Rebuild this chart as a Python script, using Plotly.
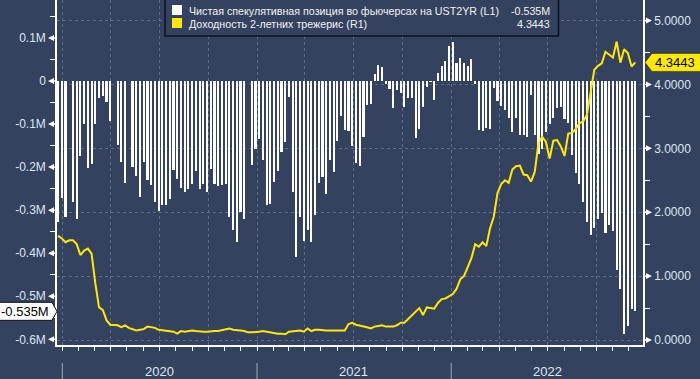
import pandas as pd
import plotly.graph_objects as go

# ---------------- data ----------------
dates = pd.date_range('2019-12-24', periods=156, freq='7D')

positions = [  # net speculative position, millions of contracts
    -0.327, -0.271, -0.317, None, -0.280, -0.320, -0.174, -0.100, -0.201, -0.193,
    -0.100, -0.039, -0.034, -0.048, -0.094, None, -0.149, -0.187, -0.238, None,
    -0.200, -0.220, -0.269, -0.187, -0.229, -0.241, -0.281, -0.303, -0.287, -0.287,
    -0.273, -0.207, -0.227, -0.248, -0.257, -0.250, -0.239, -0.208, -0.250, -0.239,
    -0.257, -0.204, -0.239, -0.243, -0.241, -0.239, -0.315, -0.346, -0.374, -0.304,
    -0.320, None, -0.195, -0.158, -0.135, -0.183, -0.289, -0.286, -0.235, -0.209,
    -0.166, -0.141, -0.036, -0.258, -0.408, -0.315, -0.371, -0.346, -0.375, -0.311,
    -0.237, -0.223, -0.262, -0.183, -0.211, -0.139, -0.081, -0.114, -0.116, -0.150,
    -0.190, -0.197, -0.129, -0.055, -0.053, 0.016, 0.037, 0.032, -0.006, -0.018,
    -0.062, -0.022, -0.027, -0.060, -0.039, -0.039, -0.132, -0.111, -0.060, -0.013,
    -0.002, -0.044, 0.018, 0.035, 0.047, 0.082, 0.091, 0.043, 0.053, 0.042,
    0.035, 0.051, -0.008, -0.113, -0.117, -0.108, -0.111, -0.017, -0.046, -0.058,
    -0.068, -0.087, -0.119, -0.087, -0.126, -0.126, -0.131, -0.032, -0.126, -0.169,
    -0.158, -0.118, -0.100, -0.085, -0.062, -0.060, -0.088, -0.097, -0.171, -0.213,
    -0.239, -0.281, -0.327, -0.357, -0.341, -0.320, -0.306, -0.352, -0.334, -0.349,
    -0.439, -0.482, -0.587, -0.568, -0.529, -0.535,
]

yields = [  # 2-year Treasury yield, %
    1.63, 1.59, 1.53, 1.56, 1.56, 1.50, 1.33, 1.40, 1.43, 1.35,
    0.89, 0.51, 0.47, 0.31, 0.24, 0.23, 0.23, 0.20, 0.23, 0.19,
    0.17, 0.15, 0.16, 0.17, 0.21, 0.20, 0.19, 0.16, 0.15, 0.14,
    0.14, 0.13, 0.10, 0.14, 0.13, 0.14, 0.15, 0.14, 0.13, 0.13,
    0.13, 0.14, 0.14, 0.14, 0.15, 0.16, 0.18, 0.16, 0.16, 0.15,
    0.14, 0.12, 0.12, 0.12, 0.13, 0.14, 0.13, 0.12, 0.10, 0.10,
    0.10, 0.09, 0.13, 0.14, 0.14, 0.15, 0.13, 0.18, 0.14, 0.16,
    0.16, 0.15, 0.15, 0.15, 0.15, 0.15, 0.15, 0.15, 0.25, 0.27,
    0.24, 0.23, 0.22, 0.20, 0.18, 0.21, 0.22, 0.23, 0.21, 0.21,
    0.21, 0.23, 0.27, 0.27, 0.33, 0.38, 0.44, 0.50, 0.39, 0.51,
    0.50, 0.49, 0.58, 0.64, 0.65, 0.68, 0.72, 0.80, 0.95, 1.00,
    1.15, 1.28, 1.50, 1.46, 1.53, 1.47, 1.75, 1.93, 2.30, 2.44,
    2.50, 2.46, 2.67, 2.72, 2.73, 2.59, 2.58, 2.48, 2.63, 3.08,
    3.18, 3.10, 2.84, 3.12, 3.13, 3.03, 2.88, 3.23, 3.24, 3.30,
    3.39, 3.42, 3.52, 3.91, 4.23, 4.29, 4.33, 4.51, 4.46, 4.42,
    4.67, 4.34, 4.55, 4.49, 4.28, 4.3443,
]

left_ticks = [-0.6, -0.5, -0.4, -0.3, -0.2, -0.1, 0.0, 0.1]
left_labels = ['-0.6M', '-0.5M', '-0.4M', '-0.3M', '-0.2M', '-0.1M', '0', '0.1M']
left_minor = [-0.55, -0.45, -0.35, -0.25, -0.15, -0.05, 0.05, 0.15]
right_ticks = [0, 1, 2, 3, 4, 5]
right_labels = ['0.0000', '1.0000', '2.0000', '3.0000', '4.0000', '5.0000']
right_minor = [0.5, 1.5, 2.5, 3.5, 4.5]
years = ['2020', '2021', '2022']
year_mid = ['2020-07-01', '2021-07-01', '2022-07-01']
year_start = ['2020-01-01', '2021-01-01', '2022-01-01']
quarters = [f'{y}-{m:02d}-01' for y in (2020, 2021, 2022) for m in (1, 4, 7, 10)]

name_pos = 'Чистая спекулятивная позиция во фьючерсах на UST2YR (L1)'
name_yld = 'Доходность 2-летних трежерис (R1)'

# ---------------- style ----------------
BG = '#34425F'
GRID = '#5A6D8F'
TXT = '#DCE6F2'
YEL = '#FFE900'
FONT = 'Liberation Sans, Arial, sans-serif'

L, R, T, B = 57, 57, 0, 34
FW, FH = 700, 379
W = FW - L - R
H = FH - T - B


def px(x):
    return (x - L) / W


def py(y):
    return (FH - B - y) / H


fig = go.Figure()
fig.add_trace(go.Bar(
    x=dates, y=positions, yaxis='y',
    marker=dict(color='white', line=dict(width=0)),
    width=4 * 86400000, name=name_pos,
))
fig.add_trace(go.Scatter(
    x=dates, y=yields, yaxis='y2', mode='lines',
    line=dict(color=YEL, width=2), name=name_yld,
))

shapes = []
annotations = []

# tick markers (triangles)
for v in left_ticks:
    shapes.append(dict(type='path', xref='paper', yref='y', xsizemode='pixel', ysizemode='pixel',
                       xanchor=0, yanchor=v,
                       path='M 0,0.7 L -3,0.7 L -3,3 L -9,0 L -3,-3 L -3,-0.7 L 0,-0.7 Z',
                       fillcolor='white', line=dict(width=0)))
for v in right_ticks:
    shapes.append(dict(type='path', xref='paper', yref='y2', xsizemode='pixel', ysizemode='pixel',
                       xanchor=1, yanchor=v,
                       path='M 0,0.7 L 3,0.7 L 3,3 L 9,0 L 3,-3 L 3,-0.7 L 0,-0.7 Z',
                       fillcolor='white', line=dict(width=0)))

# year separators & labels
for ys in year_start:
    shapes.append(dict(type='line', xref='x', yref='paper', x0=ys, x1=ys,
                       y0=py(363), y1=py(381), line=dict(color='#A0AABA', width=1)))
for yl, ym in zip(years, year_mid):
    annotations.append(dict(x=ym, xref='x', y=py(371.5), yref='paper', text=yl, showarrow=False,
                            xanchor='center', yanchor='middle', font=dict(size=13, color=TXT, family=FONT)))

# legend box
shapes.append(dict(type='rect', xref='paper', yref='paper', x0=px(165), x1=px(558.5), y0=py(36), y1=py(-6),
                   fillcolor=BG, line=dict(color='#0B1220', width=1.5)))
shapes.append(dict(type='rect', xref='paper', yref='paper', x0=px(172), x1=px(182), y0=py(15), y1=py(5),
                   fillcolor='white', line=dict(width=0)))
shapes.append(dict(type='rect', xref='paper', yref='paper', x0=px(172), x1=px(182), y0=py(28), y1=py(18),
                   fillcolor=YEL, line=dict(width=0)))
LEGF = dict(size=10.7, color='#F2F2F2', family=FONT)
annotations.append(dict(x=px(187), y=py(10.5), xref='paper', yref='paper', text=name_pos, showarrow=False,
                        xanchor='left', yanchor='middle', font=LEGF))
annotations.append(dict(x=px(187), y=py(23.5), xref='paper', yref='paper', text=name_yld, showarrow=False,
                        xanchor='left', yanchor='middle', font=LEGF))
annotations.append(dict(x=px(552), y=py(10.5), xref='paper', yref='paper', text=f'{positions[-1]:.3f}M',
                        showarrow=False, xanchor='right', yanchor='middle', font=LEGF))
annotations.append(dict(x=px(552), y=py(23.5), xref='paper', yref='paper', text=f'{yields[-1]:.4f}',
                        showarrow=False, xanchor='right', yanchor='middle', font=LEGF))

# last value labels
shapes.append(dict(type='path', xref='paper', yref='y', xsizemode='pixel', ysizemode='pixel',
                   xanchor=0, yanchor=positions[-1],
                   path='M 0,0 L -5,9 L -64,9 L -64,-9 L -5,-9 Z',
                   fillcolor='white', line=dict(color='#111111', width=1)))
annotations.append(dict(x=0, xref='paper', y=positions[-1], yref='y', xshift=-6,
                        text=f'{positions[-1]:.3f}M', showarrow=False, xanchor='right', yanchor='middle',
                        font=dict(size=13, color='#000000', family=FONT)))
shapes.append(dict(type='path', xref='paper', yref='y2', xsizemode='pixel', ysizemode='pixel',
                   xanchor=1, yanchor=yields[-1],
                   path='M 2,0 L 9,9 L 64,9 L 64,-9 L 9,-9 Z',
                   fillcolor=YEL, line=dict(color='#222200', width=0.5)))
annotations.append(dict(x=1, xref='paper', y=yields[-1], yref='y2', xshift=10,
                        text=f'{yields[-1]:.4f}', showarrow=False, xanchor='left', yanchor='middle',
                        font=dict(size=13, color='#000000', family=FONT)))

fig.update_layout(
    width=FW, height=FH,
    margin=dict(l=L, r=R, t=T, b=B, pad=0),
    paper_bgcolor=BG, plot_bgcolor=BG,
    showlegend=False, bargap=0,
    font=dict(family=FONT, color=TXT, size=12),
    xaxis=dict(
        type='date', range=['2019-12-22', '2022-12-27 12:00'],
        showline=True, linecolor='white', linewidth=1.5,
        tickvals=quarters, ticktext=[''] * len(quarters),
        ticks='outside', ticklen=4, tickcolor='white',
        showgrid=True, gridcolor=GRID, griddash='3px,3px', gridwidth=1,
        zeroline=False,
        minor=dict(dtick='M1', tick0='2020-01-01', ticks='outside', ticklen=4,
                   tickcolor='white', showgrid=False),
    ),
    yaxis=dict(
        range=[-0.6132, 0.1882],
        tickvals=left_ticks, ticktext=left_labels,
        ticks='outside', ticklen=7, tickcolor='rgba(0,0,0,0)',
        showline=True, linecolor='white', linewidth=1.5,
        showgrid=False, zeroline=False,
        tickfont=dict(size=12, color=TXT, family=FONT),
        minor=dict(tickvals=left_minor, ticks='outside', ticklen=5, tickcolor='white', showgrid=False),
    ),
    yaxis2=dict(
        overlaying='y', side='right',
        range=[-0.078, 5.321],
        tickvals=right_ticks, ticktext=right_labels,
        ticks='outside', ticklen=7, tickcolor='rgba(0,0,0,0)',
        showline=True, linecolor='white', linewidth=1.5,
        showgrid=True, gridcolor=GRID, griddash='3px,3px', gridwidth=1,
        zeroline=False,
        tickfont=dict(size=12, color=TXT, family=FONT),
        minor=dict(tickvals=right_minor, ticks='outside', ticklen=5, tickcolor='white', showgrid=False),
    ),
    shapes=shapes,
    annotations=annotations,
)

fig.write_html('out.html', config={'displayModeBar': False},
               post_script="document.body.style.margin='0px';document.body.style.overflow='hidden';")
